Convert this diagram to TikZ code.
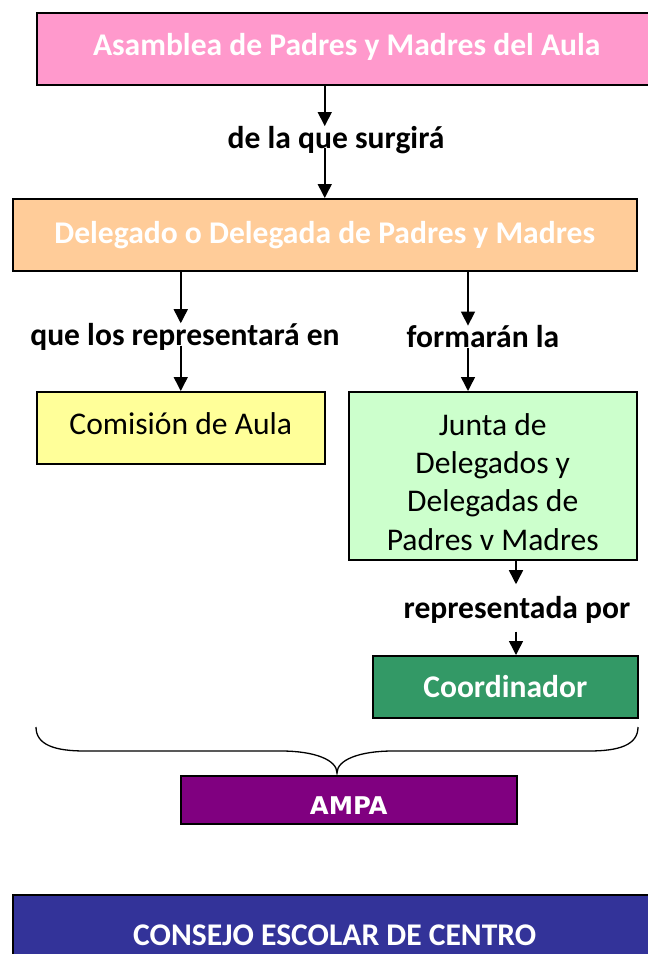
\documentclass[tikz,border=0pt]{standalone}
\usepackage{fontspec}
\setmainfont{Carlito}
\newfontfamily\ampafont{DejaVu Sans}
\usepackage{xcolor}
\usepackage{tikz}
\usetikzlibrary{arrows.meta}

\definecolor{rosa}{HTML}{FF99CC}
\definecolor{melocoton}{HTML}{FFCC99}
\definecolor{amarillo}{HTML}{FFFF99}
\definecolor{verdeclaro}{HTML}{CCFFCC}
\definecolor{verde}{HTML}{339966}
\definecolor{morado}{HTML}{800080}
\definecolor{azul}{HTML}{333399}

\tikzset{
  box/.style={draw=black, line width=1.5bp, anchor=north west, inner sep=0pt,
    align=center, font=\fontsize{31.7}{38.5}\selectfont},
  boldbox/.style={box, text=white, font=\bfseries\fontsize{31.7}{38.5}\selectfont},
  lbl/.style={inner sep=0pt, font=\bfseries\fontsize{31.7}{38.5}\selectfont},
  arr/.style={line width=1.5bp, -{Triangle[width=14bp,length=14bp]}}
}

\begin{document}
\begin{tikzpicture}[x=1bp,y=-1bp]

\useasboundingbox (0,0) rectangle (648,954);

% boxes
\node[boldbox, fill=rosa, minimum width=620bp, minimum height=72bp,
  text height=21bp, text depth=7bp] (asamblea) at (36,12)
  {Asamblea de Padres y Madres del Aula};
\node[boldbox, fill=melocoton, minimum width=624bp, minimum height=72bp] (delegado) at (12,198)
  {Delegado o Delegada de Padres y Madres};
\node[box, fill=amarillo, minimum width=288bp, minimum height=72bp,
  text height=22bp, text depth=8bp] (comision) at (36,391)
  {Comisión de Aula};
\node[box, fill=verdeclaro, minimum width=288bp, minimum height=168bp,
  text height=157bp, text depth=8bp] (junta) at (348,391)
  {Junta de\\Delegados y\\Delegadas de\\Padres v Madres};
\node[boldbox, fill=verde, minimum width=265bp, minimum height=62bp] (coordinador) at (372,655)
  {Coordinador};
\node[boldbox, fill=morado, minimum width=336bp, minimum height=48bp,
  font=\ampafont\bfseries\fontsize{24.5}{30}\selectfont,
  text height=30bp, text depth=0bp] (ampa) at (180,775)
  {AMPA};
\node[boldbox, fill=azul, minimum width=644bp, minimum height=80bp] (consejo) at (12,894)
  {CONSEJO ESCOLAR DE CENTRO};

% labels
\node[lbl] (surge)  at (336,140) {de la que surgirá};
\node[lbl] (repres) at (185,337) {que los representará en};
\node[lbl] (forman) at (483,337) {formarán la};
\node[lbl] (reppor) at (517,610) {representada por};

\coordinate (rx) at (468,0);
\coordinate (jx) at (516,0);

% arrows
\draw[arr] (asamblea.south -| delegado.north) -- (surge.north -| delegado.north);
\draw[arr] (surge.base -| delegado.north) -- (delegado.north);

\draw[arr] (delegado.south -| comision.north) -- (repres.north -| comision.north);
\draw[arr] (repres.base -| comision.north) -- (comision.north);

\draw[arr] (delegado.south -| rx) -- (forman.north -| rx);
\draw[arr] (forman.base -| rx) -- (junta.north -| rx);

\draw[arr, shorten >=12bp] (junta.south -| jx) -- (reppor.north -| jx);
\draw[arr, shorten <=13bp] (reppor.base -| jx) -- (coordinador.north -| jx);

% brace
\draw[line width=1.3bp]
  (36,727) .. controls (36,745) and (55,751) .. (85,751) -- (281,751)
  .. controls (315,751) and (337,760) .. (337,773)
  .. controls (337,760) and (359,751) .. (393,751) -- (589,751)
  .. controls (619,751) and (638,745) .. (638,727);

\end{tikzpicture}
\end{document}
